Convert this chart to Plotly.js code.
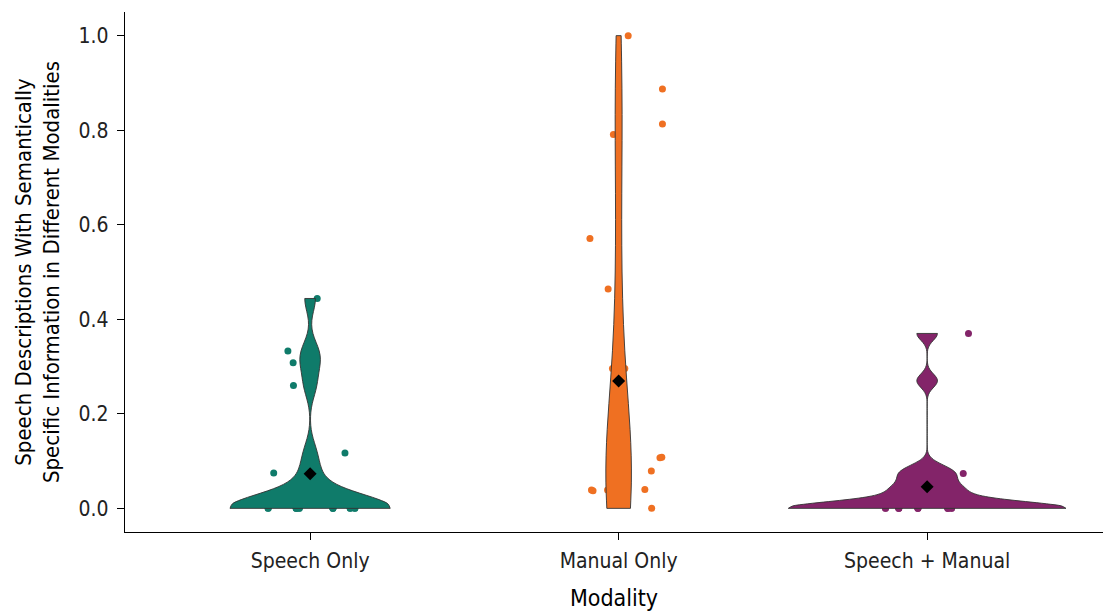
<!DOCTYPE html>
<html>
<head>
<meta charset="utf-8">
<script src="https://cdn.plot.ly/plotly-3.0.1.min.js"></script>
<style>html,body{margin:0;padding:0;background:#fff;}#chart{width:1103px;height:611px;}</style>
</head>
<body>
<div id="chart"></div>
<script>
// Categories (x positions 0,1,2)
const categories = ['Speech Only', 'Manual Only', 'Speech + Manual'];

// Per-participant proportions (jittered points + values hidden behind violins)
const speechOnlyValues = [0.444, 0.333, 0.308, 0.260, 0.117, 0.075, 0.020, 0.050,
  0, 0, 0, 0, 0, 0, 0, 0, 0, 0, 0, 0, 0, 0];
const speechOnlyJitter = [0.023, -0.072, -0.055, -0.054, 0.113, -0.118, 0.010, -0.020,
  -0.136, -0.045, -0.035, 0.074, 0.130, 0.145, -0.136, -0.045, -0.035, 0.074, 0.130, 0.145, -0.045, 0.074];

const manualOnlyValues = [1.000, 0.887, 0.813, 0.791, 0.571, 0.464, 0.296, 0.296, 0.108, 0.107, 0.079,
  0.039, 0.037, 0.039, 0.040, 0.000, 0.015, 0.030, 0.045, 0.060, 0.090, 0.120];
const manualOnlyJitter = [0.031, 0.142, 0.142, -0.017, -0.093, -0.034, -0.020, 0.020, 0.140, 0.134, 0.106,
  -0.088, -0.083, -0.036, 0.085, 0.107, 0.000, 0.010, -0.010, 0.005, -0.012, 0.004];

const speechManualValues = [0.370, 0.074, 0.270, 0.020, 0.035, 0.040, 0.045, 0.065, 0.085,
  0, 0, 0, 0, 0, 0, 0, 0, 0, 0, 0, 0, 0];
const speechManualJitter = [0.134, 0.117, 0.000, 0.000, 0.010, -0.010, 0.005, -0.005, 0.008,
  -0.135, -0.092, -0.030, 0.067, 0.079, -0.135, -0.092, -0.030, 0.067, 0.079, -0.092, -0.030, 0.067];

const groupValues = [speechOnlyValues, manualOnlyValues, speechManualValues];
const groupJitter = [speechOnlyJitter, manualOnlyJitter, speechManualJitter];
const bandwidths = [0.028, 0.17, 0.0145];
const colors = ['#0F7B6A', '#EF7022', '#832469'];
const yTickVals = [0, 0.2, 0.4, 0.6, 0.8, 1.0];

const FONT = "'Liberation Sans Narrow', 'DejaVu Sans Condensed', 'Roboto', sans-serif";

const traces = [];
// jittered points (drawn on the lower subplot so violins cover them)
groupValues.forEach((vals, i) => {
  traces.push({
    type: 'scatter', mode: 'markers',
    x: vals.map((v, k) => i + groupJitter[i][k]),
    y: vals,
    xaxis: 'x', yaxis: 'y',
    marker: {color: colors[i], size: 7, line: {width: 0}},
    hoverinfo: 'y', showlegend: false
  });
});
// violins
groupValues.forEach((vals, i) => {
  traces.push({
    type: 'violin', x0: i, y: vals, name: categories[i],
    xaxis: 'x2', yaxis: 'y',
    bandwidth: bandwidths[i], spanmode: 'hard',
    scalegroup: 'all', scalemode: 'width',
    points: false, box: {visible: false}, meanline: {visible: false},
    fillcolor: colors[i], opacity: 1,
    line: {color: '#333333', width: 0.9},
    hoveron: 'violins', showlegend: false
  });
});
// means
const means = groupValues.map(v => v.reduce((a, b) => a + b, 0) / v.length);
traces.push({
  type: 'scatter', mode: 'markers',
  x: [0, 1, 2], y: means, xaxis: 'x2', yaxis: 'y',
  marker: {symbol: 'diamond', color: '#000', size: 10, line: {width: 0}},
  showlegend: false
});

const xr = [-0.6, 2.57];
const layout = {
  width: 1103, height: 611,
  margin: {l: 125, r: 0, t: 12, b: 79},
  paper_bgcolor: '#fff', plot_bgcolor: '#fff',
  font: {family: FONT, size: 21, color: '#222'},
  showlegend: false,
  violingap: 0.1, violingroupgap: 0, violinmode: 'overlay',
  xaxis: {
    range: xr, tickmode: 'array', tickvals: [0, 1, 2], ticktext: categories,
    showgrid: false, zeroline: false, showline: true, linecolor: '#000', linewidth: 1.2,
    ticks: 'outside', ticklen: 7, tickcolor: '#000', tickwidth: 1.1, ticklabelstandoff: 3,
    tickfont: {family: FONT, size: 21, color: '#222'},
    title: {text: 'Modality', font: {family: FONT, size: 23, color: '#000'}, standoff: 20},
    fixedrange: true
  },
  xaxis2: {range: xr, overlaying: 'x', visible: false, fixedrange: true},
  yaxis: {
    range: [-0.05, 1.05], tickmode: 'array', tickvals: yTickVals,
    ticktext: yTickVals.map(v => v.toFixed(1)),
    showgrid: false, zeroline: false, showline: true, linecolor: '#000', linewidth: 1.2,
    ticks: 'outside', ticklen: 7, tickcolor: '#000', tickwidth: 1.1, ticklabelstandoff: 4,
    tickfont: {family: FONT, size: 21, color: '#222'},
    title: {text: 'Speech Descriptions With Semantically<br>Specific Information in Different Modalities',
      font: {family: FONT, size: 22, color: '#000'}, standoff: 12},
    fixedrange: true
  }
};

Plotly.newPlot('chart', traces, layout, {displayModeBar: false, staticPlot: true});
</script>
</body>
</html>
